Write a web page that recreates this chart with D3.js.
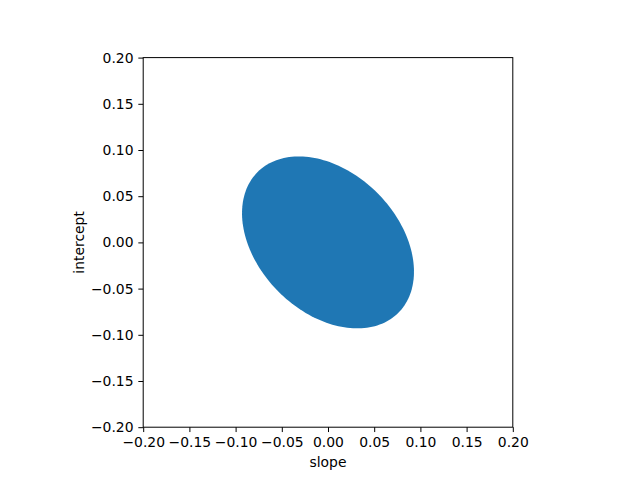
<!DOCTYPE html>
<html>
<head>
<meta charset="utf-8">
<script src="https://cdn.jsdelivr.net/npm/d3@7"></script>
<style>
  body { margin: 0; background: #fff; }
  svg { font-family: "DejaVu Sans", sans-serif; }
</style>
</head>
<body>
<svg></svg>
<script>
// ellipse (confidence region) in data units, like matplotlib Ellipse
const center = [0.0, 0.0];
const ellipseWidth = 0.2154;   // full length of major axis
const ellipseHeight = 0.1512;  // full length of minor axis
const ellipseAngle = -45;      // degrees
const xTicks = [-0.20, -0.15, -0.10, -0.05, 0.00, 0.05, 0.10, 0.15, 0.20];
const yTicks = [-0.20, -0.15, -0.10, -0.05, 0.00, 0.05, 0.10, 0.15, 0.20];

const size = {w: 640, h: 480};
const margin = {t: 57.6, l: 143.2, r: 640 - 512.8, b: 480 - 427.2};
const svg = d3.select('svg').attr('width', size.w).attr('height', size.h);

const x = d3.scaleLinear().domain([-0.2, 0.2]).range([margin.l, size.w - margin.r]);
const y = d3.scaleLinear().domain([-0.2, 0.2]).range([size.h - margin.b, margin.t]);

// outline of the ellipse
const a = ellipseWidth / 2, b = ellipseHeight / 2, th = ellipseAngle * Math.PI / 180;
const pts = d3.range(0, 361, 2).map(deg => {
    const t = deg * Math.PI / 180;
    const ex = a * Math.cos(t), ey = b * Math.sin(t);
    return [center[0] + ex * Math.cos(th) - ey * Math.sin(th),
            center[1] + ex * Math.sin(th) + ey * Math.cos(th)];
});
svg.append('path')
    .datum(pts)
    .attr('fill', '#1f77b4')
    .attr('d', d3.line().x(d => x(d[0])).y(d => y(d[1])).curve(d3.curveLinearClosed));

const fmt = d => d3.format('.2f')(d).replace('-', '\u2212');
const fs = '13.9px';

const xAxis = svg.append('g')
    .attr('transform', `translate(0,${size.h - margin.b})`)
    .call(d3.axisBottom(x).tickValues(xTicks).tickFormat(fmt).tickSize(4.86).tickPadding(4.86));
const yAxis = svg.append('g')
    .attr('transform', `translate(${margin.l},0)`)
    .call(d3.axisLeft(y).tickValues(yTicks).tickFormat(fmt).tickSize(4.86).tickPadding(4.86));
[xAxis, yAxis].forEach(g => {
    g.select('.domain').remove();
    g.selectAll('text').attr('font-size', fs).attr('font-family', '"DejaVu Sans", sans-serif').attr('fill', '#000');
    g.selectAll('line').attr('stroke', '#000').attr('stroke-width', 1);
});

// frame
svg.append('rect')
    .attr('x', margin.l).attr('y', margin.t)
    .attr('width', x.range()[1] - x.range()[0])
    .attr('height', y.range()[0] - y.range()[1])
    .attr('fill', 'none').attr('stroke', '#000').attr('stroke-width', 1);

svg.append('text')
    .attr('x', (x.range()[0] + x.range()[1]) / 2)
    .attr('y', size.h - margin.b + 40)
    .attr('text-anchor', 'middle')
    .attr('font-size', fs)
    .text('slope');

svg.append('text')
    .attr('transform', `translate(${margin.l - 59},${(y.range()[0] + y.range()[1]) / 2}) rotate(-90)`)
    .attr('text-anchor', 'middle')
    .attr('font-size', fs)
    .text('intercept');
</script>
</body>
</html>
